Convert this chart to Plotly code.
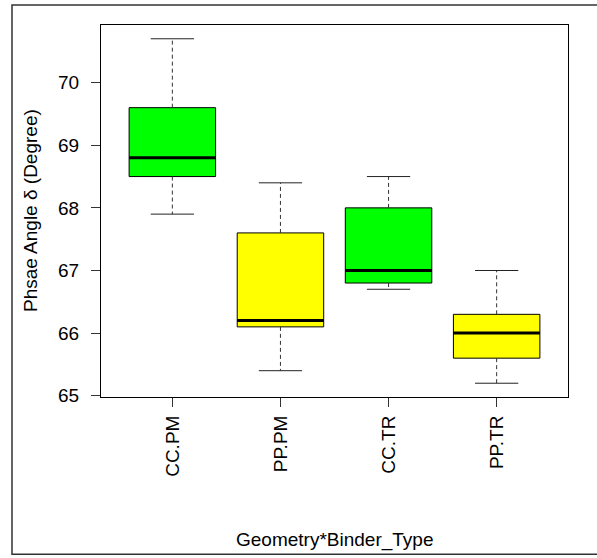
import plotly.graph_objects as go

categories = ["CC.PM", "PP.PM", "CC.TR", "PP.TR"]
positions = [1, 2, 3, 4]
lower_whisker = [67.9, 65.4, 66.7, 65.2]
q1_vals = [68.5, 66.1, 66.8, 65.6]
medians = [68.8, 66.2, 67.0, 66.0]
q3_vals = [69.6, 67.6, 68.0, 66.3]
upper_whisker = [70.7, 68.4, 68.5, 67.0]
fill_colors = ["#00FF00", "#FFFF00", "#00FF00", "#FFFF00"]
y_ticks = [65, 66, 67, 68, 69, 70]

BOX_W = 0.8
CAP_W = 0.4
FONT = "Liberation Sans, Arial, sans-serif"
FS = 19

fig = go.Figure()

# dashed whiskers
wx, wy = [], []
for p, lo, q1, q3, hi in zip(positions, lower_whisker, q1_vals, q3_vals, upper_whisker):
    wx += [p, p, None, p, p, None]
    wy += [q3, hi, None, q1, lo, None]
fig.add_trace(go.Scatter(x=wx, y=wy, mode="lines", line=dict(color="#333", width=1, dash="4px,3px"),
                         hoverinfo="skip", showlegend=False))
# caps
cx, cy = [], []
for p, lo, hi in zip(positions, lower_whisker, upper_whisker):
    cx += [p - CAP_W / 2, p + CAP_W / 2, None, p - CAP_W / 2, p + CAP_W / 2, None]
    cy += [hi, hi, None, lo, lo, None]
fig.add_trace(go.Scatter(x=cx, y=cy, mode="lines", line=dict(color="#222", width=1),
                         hoverinfo="skip", showlegend=False))

# boxes
for p, q1, med, q3, col in zip(positions, q1_vals, medians, q3_vals, fill_colors):
    fig.add_trace(go.Box(x=[p], q1=[q1], median=[med], q3=[q3], lowerfence=[q1], upperfence=[q3],
                         width=BOX_W, whiskerwidth=0, fillcolor=col, boxpoints=False,
                         line=dict(color="black", width=1), showlegend=False))

# medians
mx, my = [], []
for p, med in zip(positions, medians):
    mx += [p - BOX_W / 2, p + BOX_W / 2, None]
    my += [med, med, None]
fig.add_trace(go.Scatter(x=mx, y=my, mode="lines", line=dict(color="black", width=3),
                         hoverinfo="skip", showlegend=False))

fig.update_layout(
    width=597, height=558,
    margin=dict(l=101, r=29, t=25, b=161),
    paper_bgcolor="white", plot_bgcolor="white",
    font=dict(family=FONT, size=FS, color="black"),
    showlegend=False,
    xaxis=dict(range=[0.34, 4.66], tickmode="array", tickvals=positions, ticktext=categories,
               tickangle=-90, ticks="outside", ticklen=9, tickcolor="#333", showgrid=False,
               zeroline=False, showline=True, linecolor="black", linewidth=1, mirror=True,
               ticklabelstandoff=1),
    yaxis=dict(range=[64.98, 70.92], tickmode="array", tickvals=y_ticks,
               ticks="outside", ticklen=9, tickcolor="#333", showgrid=False,
               zeroline=False, showline=True, linecolor="black", linewidth=1, mirror=True,
               ticklabelstandoff=8),
    annotations=[
        dict(text="Phsae Angle δ (Degree)", xref="paper", yref="paper", x=-0.152, y=0.5,
             textangle=-90, showarrow=False, xanchor="center", yanchor="middle",
             font=dict(family=FONT, size=FS)),
        dict(text="Geometry*Binder_Type", xref="paper", yref="paper", x=0.5, y=-0.384,
             showarrow=False, xanchor="center", yanchor="middle",
             font=dict(family=FONT, size=FS)),
    ],
    shapes=[dict(type="rect", xref="paper", yref="paper", x0=-0.1906, x1=1.07, y0=-0.423, y1=1.0538,
                 line=dict(color="#333", width=1.5), layer="above")],
)

fig.write_html("out.html", config={"displayModeBar": False},
               post_script="document.body.style.margin='0px';")
